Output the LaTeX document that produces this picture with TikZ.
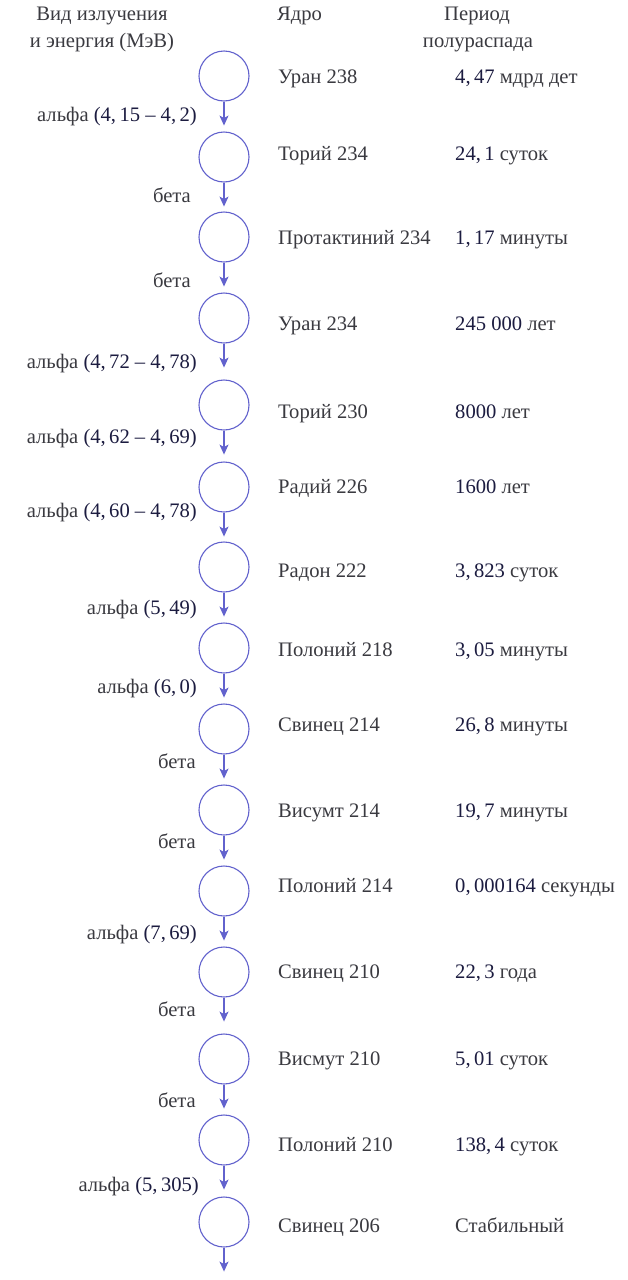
\documentclass[tikz,border=0pt]{standalone}
\usepackage{fontspec}
\setmainfont{Liberation Serif}
\usetikzlibrary{arrows.meta}
\definecolor{linec}{RGB}{98,98,205}
\definecolor{txtc}{RGB}{58,58,64}
\definecolor{numc}{RGB}{28,28,64}
\newcommand{\nm}[1]{\textcolor{numc}{#1}}
\tikzset{
  nuc/.style={circle, draw=linec, line width=1.1pt, minimum size=50pt, inner sep=0pt},
  arr/.style={draw=linec, line width=1.2pt, -{Stealth[length=10pt,width=9pt,inset=2.5pt]}},
  lbl/.style={font=\fontsize{20.6}{23}\selectfont, text=txtc, inner sep=0pt, text height=0.8em, text depth=0em},
  namel/.style={lbl, anchor=west},
  halfl/.style={lbl, anchor=west},
  decl/.style={lbl, anchor=east},
  head/.style={lbl, anchor=center}
}
\begin{document}
\begin{tikzpicture}[x=1pt,y=-1pt]
\fill[white] (0,0) rectangle (628,1280);
\useasboundingbox (0,0) rectangle (628,1280);
% headers
\node[head] (h1) at (102,16) {Вид излучения};
\node[head] (h2) at (102,43) {и энергия (МэВ)};
\node[lbl,anchor=west] (h3) at (277,16) {Ядро};
\node[head] (h4) at (477,16) {Период};
\node[head] (h5) at (478,43) {полураспада};
% nuclei
\foreach \i/\cy/\ty/\nam/\hl in {
  1/76/79/{Уран 238}/{\nm{4,\,47} мдрд дет},
  2/157/156/{Торий 234}/{\nm{24,\,1} суток},
  3/237/240/{Протактиний 234}/{\nm{1,\,17} минуты},
  4/318/326/{Уран 234}/{\nm{245 000} лет},
  5/405/414/{Торий 230}/{\nm{8000} лет},
  6/487/489/{Радий 226}/{\nm{1600} лет},
  7/567/573/{Радон 222}/{\nm{3,\,823} суток},
  8/648/652/{Полоний 218}/{\nm{3,\,05} минуты},
  9/729/727/{Свинец 214}/{\nm{26,\,8} минуты},
  10/810/813/{Висумт 214}/{\nm{19,\,7} минуты},
  11/891/888/{Полоний 214}/{\nm{0,\,000164} секунды},
  12/972/974/{Свинец 210}/{\nm{22,\,3} года},
  13/1059/1061/{Висмут 210}/{\nm{5,\,01} суток},
  14/1140/1147/{Полоний 210}/{\nm{138,\,4} суток},
  15/1222/1228/{Свинец 206}/{Стабильный}}{
  \node[nuc] (c\i) at (224,\cy) {};
  \node[namel] (n\i) at (278,\ty) {\nam};
  \node[halfl] (t\i) at (455,\ty) {\hl};
  \coordinate (e\i) at ([yshift=-24pt]c\i.south);
  \draw[arr] (c\i.south) -- (e\i);
}
% decay labels
\foreach \i/\ly/\rx/\txt in {
  1/117/197/{альфа \nm{(4,\,15 – 4,\,2)}},
  2/198/191/{бета},
  3/283/191/{бета},
  4/364/197/{альфа \nm{(4,\,72 – 4,\,78)}},
  5/439/197/{альфа \nm{(4,\,62 – 4,\,69)}},
  6/513/197/{альфа \nm{(4,\,60 – 4,\,78)}},
  7/610/197/{альфа \nm{(5,\,49)}},
  8/689/197/{альфа \nm{(6,\,0)}},
  9/764/196/{бета},
  10/844/196/{бета},
  11/935/197/{альфа \nm{(7,\,69)}},
  12/1012/196/{бета},
  13/1103/196/{бета},
  14/1187/199/{альфа \nm{(5,\,305)}}}{
  \node[decl] (d\i) at (\rx,\ly) {\txt};
}
\end{tikzpicture}
\end{document}
